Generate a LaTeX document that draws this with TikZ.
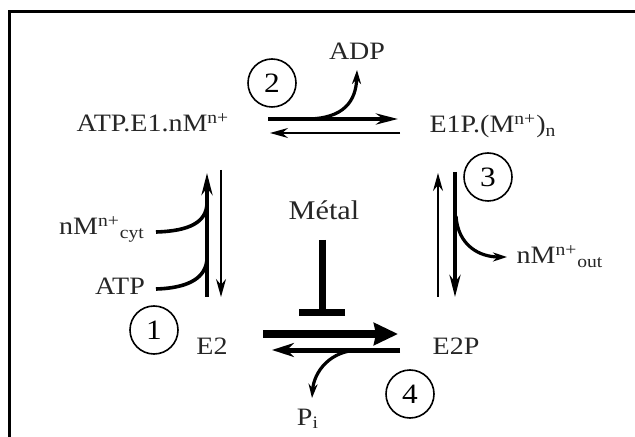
\documentclass[tikz,border=0pt]{standalone}
\usepackage{fontspec}
\setmainfont{Liberation Serif}[FakeStretch=1.12]
\usetikzlibrary{arrows.meta}

\begin{document}
\begin{tikzpicture}[x=0.5pt, y=-0.5pt,
    species/.style={anchor=base, inner sep=0pt, text=black!85, font=\fontsize{12.5}{14}\selectfont},
    stepnum/.style={draw, circle, line width=0.8pt, minimum size=24pt, inner sep=0pt, font=\fontsize{14}{16}\selectfont},
    thickarr/.style={line width=2pt, -{Stealth[length=11pt, width=5.5pt]}},
    thinarr/.style={line width=0.75pt, -{Stealth[length=9pt, width=5pt]}},
    sidearr/.style={line width=1.6pt, -{Stealth[length=7pt, width=4.5pt]}},
    sidein/.style={line width=1.8pt}]
        \useasboundingbox (0,0) rectangle (635,437);
        % Frame
        \draw[line width=1.5pt] (635,12) -- (9,12) -- (9,437);

        % Species
        \node[species] (atpe) at (153,132) {ATP.E1.nM\textsuperscript{n+}};
        \node[species] (eonep) at (493,133) {E1P.(M\textsuperscript{n+})\textsubscript{n}};
        \node[species] (etwo) at (212,354) {E2};
        \node[species] (etwop) at (456,354) {E2P};
        \node[species] (adp) at (357,60) {ADP};
        \node[species] (mcyt) at (102,235) {nM\textsuperscript{n+}\textsubscript{cyt}};
        \node[species] (atp) at (120,295) {ATP};
        \node[species] (mout) at (560,264) {nM\textsuperscript{n+}\textsubscript{out}};
        \node[species] (pi) at (308,425) {P\textsubscript{i}};
        \node[species, font=\fontsize{13.5}{15}\selectfont] (metal) at (324,220) {Métal};

        % Steps
        \node[stepnum] (s1) at (154,330) {1};
        \node[stepnum] (s2) at (272,83) {2};
        \node[stepnum] (s3) at (488,177) {3};
        \node[stepnum] (s4) at (410,394) {4};

        % Step 2
        \coordinate (a2) at (268,119);
        \coordinate (b2) at (398,119);
        \coordinate (c2) at (400,133);
        \coordinate (d2) at (270,133);
        \coordinate (adpin) at (306,119);
        \coordinate (adpend) at (357,70);
        \draw[thickarr] (a2) -- (b2);
        \draw[thinarr] (c2) -- (d2);
        \draw[sidearr] (adpin) .. controls (345,119) and (356,100) .. (adpend);

        % Step 3
        \coordinate (a3) at (438,297);
        \coordinate (b3) at (438,173);
        \coordinate (c3) at (455,172);
        \coordinate (d3) at (455,297);
        \coordinate (outin) at (456,216);
        \coordinate (outend) at (507,257);
        \draw[thinarr] (a3) -- (b3);
        \draw[thickarr] (c3) -- (d3);
        \draw[sidearr] (outin) .. controls (458,246) and (480,257) .. (outend);

        % Step 1
        \coordinate (a1) at (207,297);
        \coordinate (b1) at (207,173);
        \coordinate (c1) at (221,170);
        \coordinate (d1) at (221,297);
        \coordinate (cytin) at (156,232);
        \coordinate (cytend) at (207,204);
        \coordinate (atpin) at (156,289);
        \coordinate (atpend) at (207,259);
        \draw[thickarr] (a1) -- (b1);
        \draw[thinarr] (c1) -- (d1);
        \draw[sidein] (cytin) .. controls (190,231) and (206,222) .. (cytend);
        \draw[sidein] (atpin) .. controls (190,288) and (206,277) .. (atpend);

        % Step 4
        \coordinate (a4) at (263,334);
        \coordinate (b4) at (398,334);
        \coordinate (c4) at (400,350);
        \coordinate (d4) at (272,350);
        \coordinate (piin) at (360,350);
        \coordinate (piend) at (312,398);
        \draw[line width=4pt, -{Stealth[length=12pt, width=11pt, inset=1pt]}] (a4) -- (b4);
        \draw[line width=2.5pt, -{Stealth[length=11pt, width=7pt]}] (c4) -- (d4);
        \draw[sidearr] (piin) .. controls (330,350) and (314,372) .. (piend);

        % Inhibition
        \coordinate (mtop) at (322,240);
        \coordinate (mbar) at (322,316);
        \draw[line width=3.5pt, -{Bar[width=23pt]}] (mtop) -- (mbar);
      \end{tikzpicture}
\end{document}
